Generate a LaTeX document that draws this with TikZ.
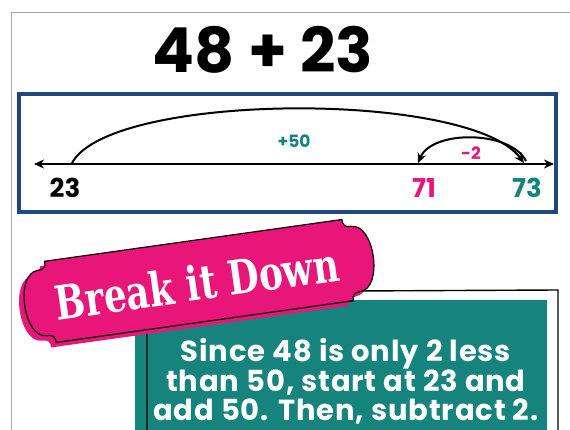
\documentclass[tikz,border=0pt]{standalone}
\usepackage{fontspec}
\usetikzlibrary{arrows.meta}
\newfontfamily\popfont{Poppins}
\newfontfamily\tipfont[LetterSpace=3]{Poppins}
\newfontfamily\bannerfont{DejaVu Serif}
\definecolor{navy}{RGB}{29,72,128}
\definecolor{tealgreen}{RGB}{22,132,124}
\definecolor{hotpink}{RGB}{232,22,120}
\tikzset{
  bannershape/.pic={
    \path[pic actions] (-150,-41) -- (150,-41)
      .. controls (150,-35) and (152,-33) .. (158,-33)
      .. controls (182,-33) and (182,33) .. (158,33)
      .. controls (152,33) and (150,35) .. (150,41)
      -- (-150,41)
      .. controls (-150,35) and (-152,33) .. (-158,33)
      .. controls (-182,33) and (-182,-33) .. (-158,-33)
      .. controls (-152,-33) and (-150,-35) .. (-150,-41) -- cycle;
  }
}
\begin{document}
\begin{tikzpicture}[x=1pt,y=-1pt,>={Stealth[length=10pt,width=9pt]},
  num/.style={font=\popfont\bfseries\fontsize{26}{26}\selectfont,inner sep=0pt},
  jumplabel/.style={font=\popfont\bfseries\fontsize{17}{17}\selectfont,inner sep=0pt},
  jump/.style={->,line width=2pt}]
\useasboundingbox (0,0) rectangle (570,430);
\draw[gray!70,line width=0.8pt] (11,430) -- (11,12) -- (570,12);
\node[font=\popfont\bfseries\fontsize{62}{62}\selectfont] (sum) at (263,50) {48 + 23};
\draw[navy,line width=4pt] (19,94) rectangle (556,212);
\coordinate (lineL) at (34,164);
\coordinate (lineR) at (554,164);
\draw[<->,line width=2.2pt] (lineL) -- (lineR);
\coordinate (s23) at (72,163);
\coordinate (s73) at (524,163);
\coordinate (s71) at (418,163);
\coordinate (from73) at (526,161);
\draw[jump] (s23) .. controls (110,92) and (470,90) .. (s73);
\draw[jump] (from73) .. controls (510,130) and (432,130) .. (s71);
\node[num] (n23) at (65,188) {23};
\node[num,text=hotpink] (n71) at (424,188) {71};
\node[num,text=tealgreen] (n73) at (527,188) {73};
\node[jumplabel,text=tealgreen] (plus) at (294,141) {+50};
\node[jumplabel,text=hotpink] (minus) at (471,153) {-2};
\fill[tealgreen] (135,300) rectangle (547,440);
\draw[line width=1.4pt] (147,440) -- (147,292) -- (558,290) -- (558,440);
\pic[fill=hotpink,rotate=8] at (194,286) {bannershape};
\pic[fill=hotpink,draw=black,line width=1.2pt,rotate=8] at (199,281) {bannershape};
\node[rotate=8,xscale=0.76,transform shape,text=white,font=\bannerfont\bfseries\fontsize{47}{47}\selectfont] (banner) at (197,283) {Break it Down};
\node[text=white,font=\tipfont\bfseries\fontsize{29}{29}\selectfont,align=center] (tip) at (346,381) {Since 48 is only 2 less\\than 50, start at 23 and\\add 50. Then, subtract 2.};
\end{tikzpicture}
\end{document}
